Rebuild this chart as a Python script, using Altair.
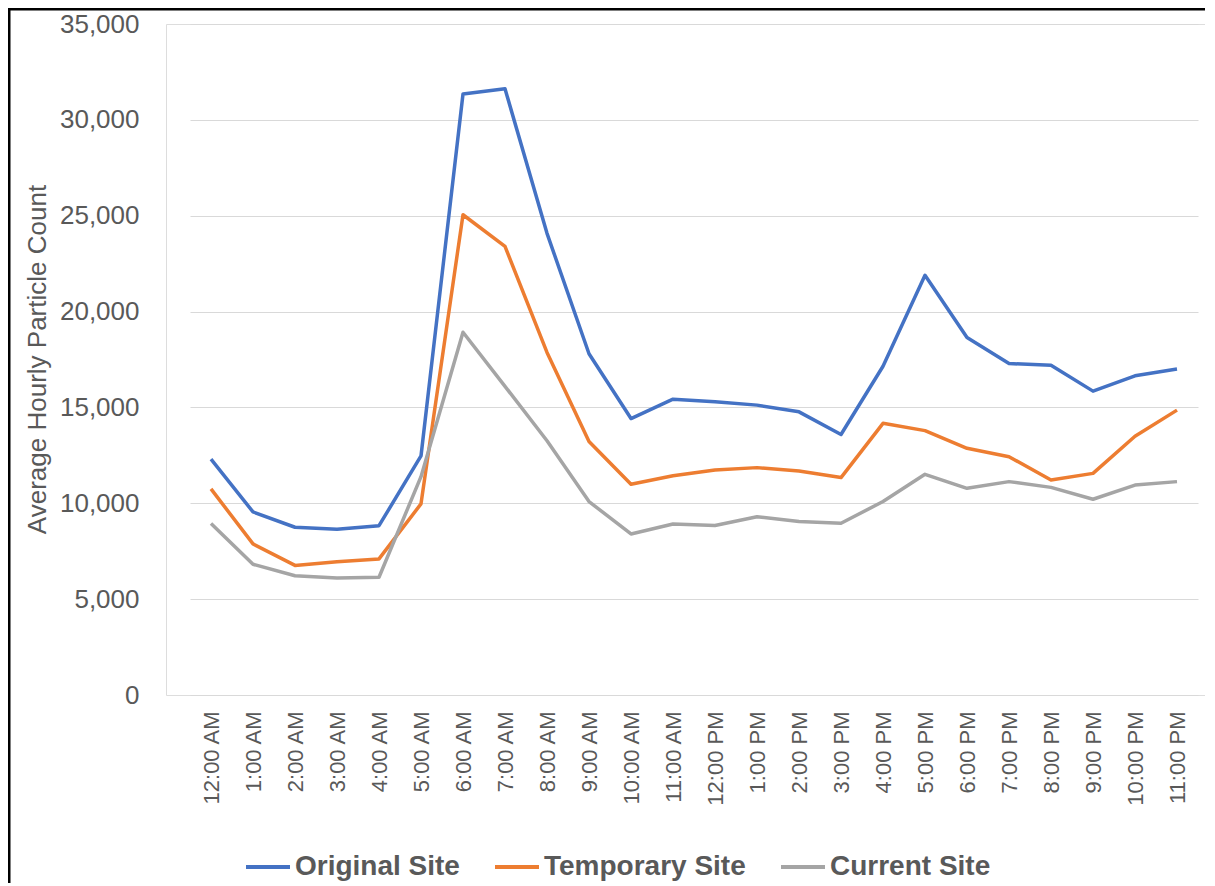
import altair as alt
import pandas as pd

hours = ["12:00 AM", "1:00 AM", "2:00 AM", "3:00 AM", "4:00 AM", "5:00 AM",
         "6:00 AM", "7:00 AM", "8:00 AM", "9:00 AM", "10:00 AM", "11:00 AM",
         "12:00 PM", "1:00 PM", "2:00 PM", "3:00 PM", "4:00 PM", "5:00 PM",
         "6:00 PM", "7:00 PM", "8:00 PM", "9:00 PM", "10:00 PM", "11:00 PM"]

original = [12300, 9550, 8750, 8650, 8830, 12470, 31350, 31620, 24080, 17800,
            14420, 15430, 15300, 15120, 14770, 13590, 17150, 21890, 18650, 17290,
            17200, 15850, 16650, 17000]
temporary = [10750, 7880, 6760, 6950, 7100, 9970, 25050, 23400, 17870, 13220,
             10990, 11440, 11740, 11860, 11680, 11340, 14170, 13790, 12870, 12430,
             11210, 11560, 13500, 14860]
current = [8950, 6820, 6220, 6100, 6140, 11390, 18920, 16100, 13260, 10090,
           8400, 8920, 8840, 9300, 9050, 8960, 10090, 11510, 10780, 11130,
           10830, 10210, 10950, 11130]

series_names = ["Original Site", "Temporary Site", "Current Site"]
series_colors = ["#4472C4", "#ED7D31", "#A5A5A5"]

rows = []
for name, vals in zip(series_names, [original, temporary, current]):
    for h, v in zip(hours, vals):
        rows.append({"hour": h, "value": v, "series": name})
df = pd.DataFrame(rows)

FONT = "Liberation Sans"
GRAY = "#595959"

lines = alt.Chart(df).mark_line(strokeWidth=3.5, strokeJoin="round").encode(
    x=alt.X("hour:N", sort=hours,
            scale=alt.Scale(type="point", range=[24, 1032]),
            axis=alt.Axis(title=None, labelAngle=270, labelFontSize=22,
                          labelFont=FONT, labelColor=GRAY, labelPadding=16,
                          ticks=False, domain=False, grid=False)),
    y=alt.Y("value:Q",
            scale=alt.Scale(domain=[0, 35000], nice=False),
            axis=alt.Axis(title="Average Hourly Particle Count",
                          values=[0, 5000, 10000, 15000, 20000, 25000, 30000, 35000],
                          format=",.0f", labelFontSize=26, labelFont=FONT,
                          labelColor=GRAY, labelPadding=27, ticks=False,
                          domain=False, grid=True, gridColor="#d9d9d9",
                          gridWidth=1, titleFont=FONT, titleFontSize=26,
                          titleFontWeight="normal", titleColor=GRAY,
                          titleX=-129, titleY=335, titleAngle=270,
                          titleAlign="center", titleBaseline="middle")),
    color=alt.Color("series:N", sort=series_names,
                    scale=alt.Scale(domain=series_names, range=series_colors),
                    legend=alt.Legend(title=None, orient="none", legendX=78,
                                      legendY=819, direction="horizontal",
                                      symbolType="stroke", symbolStrokeWidth=4,
                                      symbolSize=1936, labelFontSize=28,
                                      labelFont=FONT,
                                      labelFontWeight="bold", labelColor=GRAY,
                                      labelOffset=3, columnPadding=27,
                                      labelLimit=400)),
)

frame_top = alt.Chart(pd.DataFrame({"a": [0]})).mark_rule(
    color="black", strokeWidth=3).encode(
    x=alt.value(-158), x2=alt.value(1060), y=alt.value(-15))
frame_left = alt.Chart(pd.DataFrame({"a": [0]})).mark_rule(
    color="black", strokeWidth=3).encode(
    x=alt.value(-157), y=alt.value(-16), y2=alt.value(880))

chart = alt.layer(lines, frame_top, frame_left).properties(
    width=1039, height=671,
    autosize=alt.AutoSizeParams(type="none"),
    padding={"left": 158, "top": 16, "right": 0, "bottom": 188},
).configure_view(stroke=None).configure(background="white")

chart.save("out.html", embed_options={"renderer": "svg", "actions": False})
